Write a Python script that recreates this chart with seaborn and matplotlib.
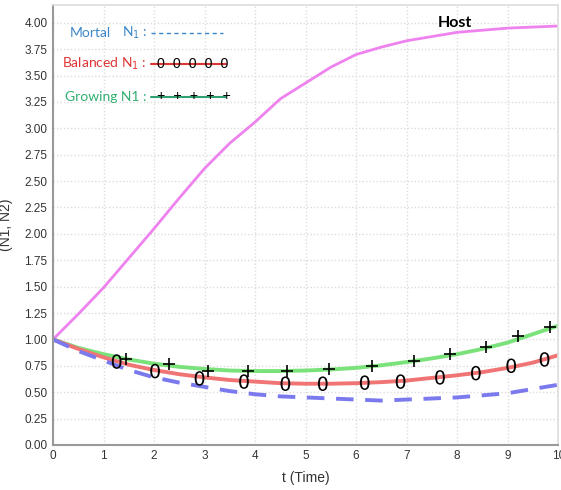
import numpy as np
import pandas as pd
import matplotlib
matplotlib.use("Agg")
import matplotlib.pyplot as plt
import seaborn as sns

# ---------------- data ----------------
t = [0, 0.5, 1, 1.5, 2, 2.5, 3, 3.5, 4, 4.5, 5, 5.5, 6, 6.5, 7, 7.5, 8, 8.5, 9, 9.5, 10]
host = [1.00, 1.24, 1.49, 1.77, 2.05, 2.34, 2.62, 2.86, 3.06, 3.28, 3.43, 3.58, 3.70, 3.77,
        3.83, 3.87, 3.91, 3.93, 3.95, 3.96, 3.97]
growing = [1.00, 0.92, 0.86, 0.81, 0.77, 0.74, 0.72, 0.705, 0.70, 0.70, 0.705, 0.715, 0.73,
           0.755, 0.785, 0.82, 0.86, 0.91, 0.97, 1.05, 1.13]
balanced = [1.00, 0.91, 0.83, 0.76, 0.71, 0.67, 0.64, 0.615, 0.60, 0.585, 0.58, 0.58, 0.585,
            0.595, 0.61, 0.635, 0.66, 0.69, 0.73, 0.78, 0.85]
mortal = [1.00, 0.89, 0.80, 0.71, 0.64, 0.59, 0.55, 0.51, 0.48, 0.46, 0.45, 0.44, 0.43, 0.42,
          0.43, 0.44, 0.45, 0.47, 0.49, 0.53, 0.57]

zero_t = [1.26, 2.02, 2.90, 3.78, 4.60, 5.34, 6.17, 6.88, 7.66, 8.37, 9.07, 9.73]
zero_y = [0.79, 0.70, 0.63, 0.60, 0.58, 0.58, 0.59, 0.60, 0.64, 0.68, 0.75, 0.81]
plus_t = [1.45, 2.29, 3.07, 3.85, 4.64, 5.46, 6.32, 7.14, 7.86, 8.57, 9.20, 9.84]
plus_y = [0.81, 0.77, 0.70, 0.70, 0.70, 0.72, 0.75, 0.80, 0.86, 0.93, 1.03, 1.12]

xticks = list(range(0, 11))
yticks = [0.00, 0.25, 0.50, 0.75, 1.00, 1.25, 1.50, 1.75, 2.00, 2.25, 2.50, 2.75,
          3.00, 3.25, 3.50, 3.75, 4.00]

# ---------------- plot ----------------
sns.set_style("white")
plt.rcParams['font.family'] = ['Liberation Sans', 'DejaVu Sans']

fig = plt.figure(figsize=(5.61, 4.90), dpi=100)
ax = fig.add_axes([0.0945, 0.092, 0.9005, 0.898])

c_host = '#ee82ee'
c_green = '#7be27b'
c_red = '#f07474'
c_blue = '#7a7aee'

sns.lineplot(x=t, y=host, ax=ax, color=c_host, linewidth=2.0)
sns.lineplot(x=t, y=growing, ax=ax, color=c_green, linewidth=2.8)
sns.lineplot(x=t, y=balanced, ax=ax, color=c_red, linewidth=2.8)
sns.lineplot(x=t, y=mortal, ax=ax, color=c_blue, linewidth=2.8)
ax.lines[-1].set_dashes([4.5, 3])

sns.scatterplot(x=zero_t, y=zero_y, ax=ax, marker='$0$', s=110, color='black',
                edgecolor='none', zorder=5)
sns.scatterplot(x=plus_t, y=plus_y, ax=ax, marker='+', s=70, color='black',
                linewidth=1.2, zorder=5)

ax.set_xlim(0, 10)
ax.set_ylim(0, 4.17)
ax.set_xticks(xticks)
ax.set_yticks(yticks)
ax.set_yticklabels([f"{v:.2f}" for v in yticks], fontsize=8.5, color='#333333')
ax.set_xticklabels([str(v) for v in xticks], fontsize=8.5, color='#333333')
ax.tick_params(length=0, pad=4)
ax.grid(True, color='#dddddd', linestyle=(0, (1, 1.5)), linewidth=1.0)

for s in ['left', 'bottom']:
    ax.spines[s].set_color('#999999')
    ax.spines[s].set_linewidth(1.5)
for s in ['top', 'right']:
    ax.spines[s].set_color('#dddddd')
    ax.spines[s].set_linewidth(1.2)

ax.set_xlabel('t (Time)', fontsize=10, color='#333333', labelpad=6)
ax.set_ylabel('(N1, N2)', fontsize=10, color='#333333', labelpad=8)

# legend drawn as text + sample lines
fs = 10
lf = ['Lato', 'DejaVu Sans']
ax.text(0.34, 3.905, 'Mortal', color='#3a87c8', fontsize=fs, va='center', family=lf)
ax.text(1.86, 3.905, 'N$_1$ :', color='#3a87c8', fontsize=fs, va='center', ha='right', family=lf)
ax.plot([1.93, 3.36], [3.905, 3.905], color='#3a87c8', linewidth=1.0, dashes=[3, 2.5])

ax.text(1.86, 3.61, 'Balanced N$_1$ :', color='#e03434', fontsize=fs, va='center', ha='right',
        family=lf)
ax.plot([1.93, 3.42], [3.61, 3.61], color='#e03434', linewidth=1.5)
ax.text(2.05, 3.61, '0  0  0  0  0', color='black', fontsize=10.3, va='center')

ax.text(1.86, 3.30, 'Growing N1 :', color='#30b070', fontsize=fs, va='center', ha='right',
        family=lf)
ax.plot([1.93, 3.42], [3.30, 3.30], color='#30a070', linewidth=1.5)
ax.text(2.05, 3.305, '+  +  +  +  +', color='black', fontsize=10.3, va='center')

ax.text(7.95, 4.0, 'Host', fontsize=11.5, fontweight='bold', color='black',
        ha='center', va='center', family=lf)

fig.savefig('out.png', dpi=100)
